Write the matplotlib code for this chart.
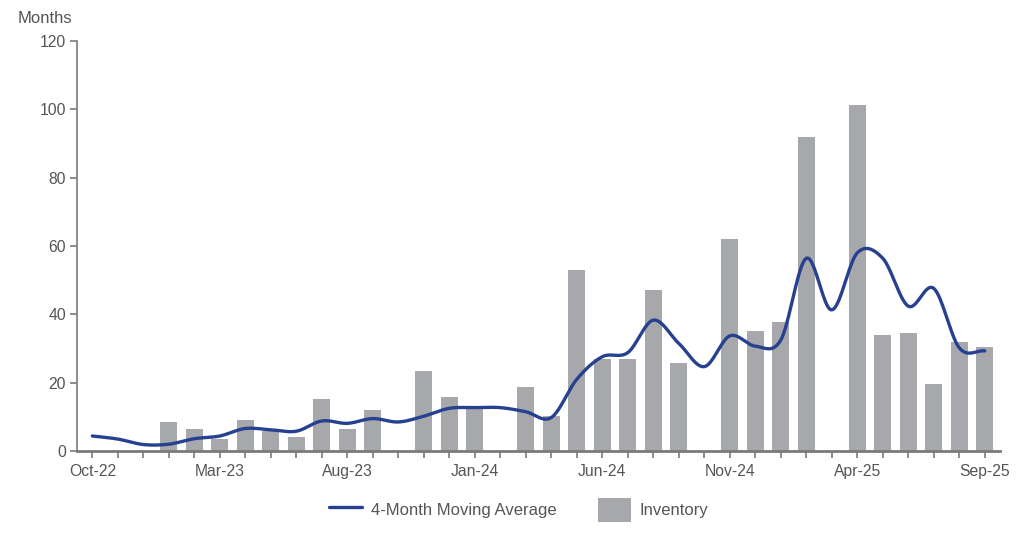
import numpy as np
import matplotlib
matplotlib.use("Agg")
import matplotlib.pyplot as plt

plt.rcParams['font.family'] = ['Liberation Sans', 'DejaVu Sans']

# monthly data, Oct-22 .. Sep-25
months = ['Oct-22', 'Nov-22', 'Dec-22', 'Jan-23', 'Feb-23', 'Mar-23', 'Apr-23', 'May-23',
          'Jun-23', 'Jul-23', 'Aug-23', 'Sep-23', 'Oct-23', 'Nov-23', 'Dec-23', 'Jan-24',
          'Feb-24', 'Mar-24', 'Apr-24', 'May-24', 'Jun-24', 'Jul-24', 'Aug-24', 'Sep-24',
          'Oct-24', 'Nov-24', 'Dec-24', 'Jan-25', 'Feb-25', 'Mar-25', 'Apr-25', 'May-25',
          'Jun-25', 'Jul-25', 'Aug-25', 'Sep-25']
inventory = [0, 0, 0, 8.5, 6.4, 3.4, 9.0, 6.0, 4.2, 15.3, 6.3, 11.9, 0, 23.5, 15.7, 12.5,
             0, 18.8, 10.2, 53.0, 26.9, 26.9, 47.0, 25.7, 0, 62.0, 35.1, 37.7, 91.8, 0,
             101.3, 34.1, 34.6, 19.6, 32.0, 30.3]
moving_avg = [4.4, 3.5, 1.9, 2.0, 3.6, 4.4, 6.6, 6.2, 5.8, 8.8, 8.1, 9.5, 8.5, 10.2, 12.5,
              12.7, 12.7, 11.5, 9.8, 21.0, 27.6, 28.8, 38.3, 31.5, 24.7, 33.7, 30.7, 32.5,
              56.4, 41.3, 58.0, 56.4, 42.4, 47.6, 30.2, 29.3]
label_every = 5

text_color = '#555555'
axis_color = '#7a7a7a'
bar_color = '#a7a8ac'
line_color = '#27408f'


def smooth(x, y, n=20):
    # catmull-rom curve through the points
    x = np.asarray(x, float)
    y = np.asarray(y, float)
    px = np.concatenate([[2 * x[0] - x[1]], x, [2 * x[-1] - x[-2]]])
    py = np.concatenate([[2 * y[0] - y[1]], y, [2 * y[-1] - y[-2]]])
    xs, ys = [], []
    t = np.linspace(0, 1, n, endpoint=False)
    for i in range(1, len(px) - 2):
        for p, out in ((px, xs), (py, ys)):
            p0, p1, p2, p3 = p[i - 1], p[i], p[i + 1], p[i + 2]
            out.extend(0.5 * (2 * p1 + (-p0 + p2) * t + (2 * p0 - 5 * p1 + 4 * p2 - p3) * t ** 2
                              + (-p0 + 3 * p1 - 3 * p2 + p3) * t ** 3))
    xs.append(x[-1])
    ys.append(y[-1])
    return xs, ys


fig = plt.figure(figsize=(10.31, 5.53), dpi=100)
ax = fig.add_axes([0.0747, 0.1844, 0.8953, 0.7415])

idx = np.arange(len(months))
bars = ax.bar(idx, inventory, width=0.67, color=bar_color, zorder=2)
sx, sy = smooth(idx, moving_avg)
line, = ax.plot(sx, sy, color=line_color, lw=2.4, solid_capstyle='round', zorder=3)

ax.set_xlim(-0.6, 35.6)
ax.set_ylim(0, 120)
ax.set_yticks(range(0, 121, 20))
ax.set_xticks(idx)
ax.set_xticklabels([m if i % label_every == 0 else '' for i, m in enumerate(months)])

for s in ['top', 'right']:
    ax.spines[s].set_visible(False)
for s in ['left', 'bottom']:
    ax.spines[s].set_color(axis_color)
ax.spines['left'].set_linewidth(1.2)
ax.spines['bottom'].set_linewidth(2.0)
ax.tick_params(axis='both', colors=axis_color, labelcolor=text_color, labelsize=11.3,
               length=5, width=1.2, direction='out')
ax.tick_params(axis='x', pad=4)
ax.tick_params(axis='y', pad=3)

fig.text(0.0175, 0.967, 'Months', color=text_color, fontsize=12, va='center', ha='left')

fig.legend([line, bars], ['4-Month Moving Average', 'Inventory'],
           loc='center', bbox_to_anchor=(0.503, 0.078), ncol=2, frameon=False,
           fontsize=12, labelcolor=text_color, handlelength=2.0, handleheight=1.8,
           handletextpad=0.5, columnspacing=2.5)

fig.savefig('out.png', dpi=100)
